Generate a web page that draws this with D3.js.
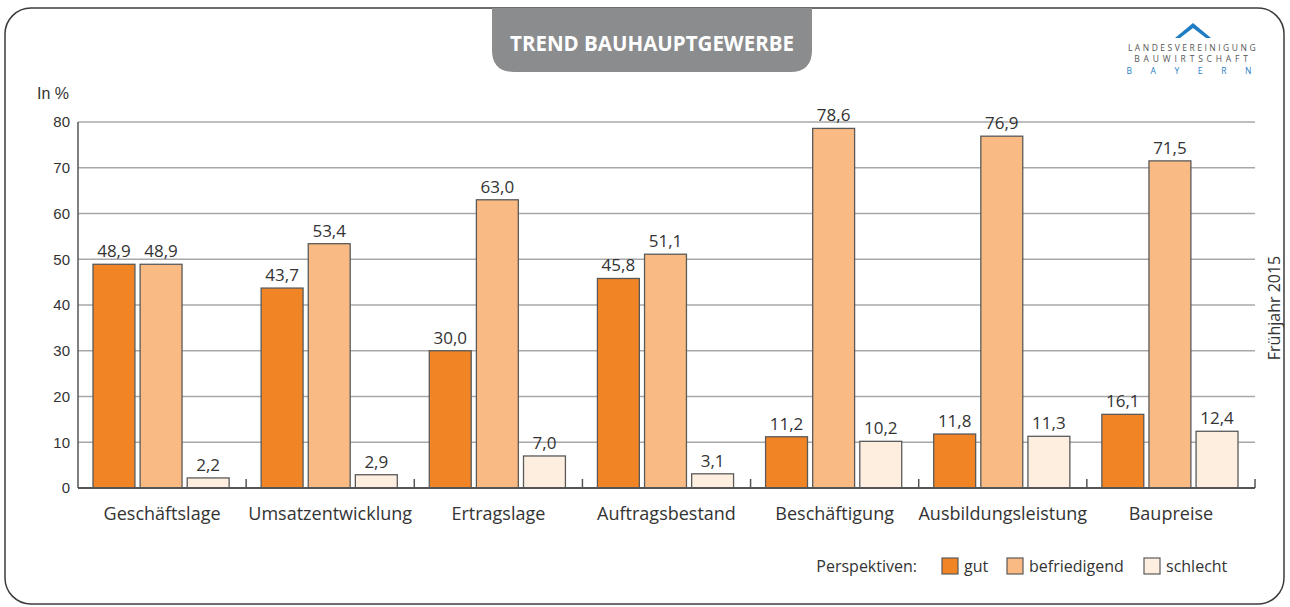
<!DOCTYPE html>
<html>
<head>
<meta charset="utf-8">
<script src="https://d3js.org/d3.v7.min.js"></script>
<style>
  body { margin: 0; background: #fff; }
  svg { display: block; }
</style>
</head>
<body>
<div class="canvas"></div>
<script>
const categories = ['Geschäftslage', 'Umsatzentwicklung', 'Ertragslage', 'Auftragsbestand', 'Beschäftigung', 'Ausbildungsleistung', 'Baupreise'];
const seriesNames = ['gut', 'befriedigend', 'schlecht'];
const gut = [48.9, 43.7, 30.0, 45.8, 11.2, 11.8, 16.1];
const befriedigend = [48.9, 53.4, 63.0, 51.1, 78.6, 76.9, 71.5];
const schlecht = [2.2, 2.9, 7.0, 3.1, 10.2, 11.3, 12.4];
const yTicks = [0, 10, 20, 30, 40, 50, 60, 70, 80];

const dims = { width: 1290, height: 607 };
const plot = { left: 78, right: 1255, top: 122, bottom: 488 };
const colors = ['#f18424', '#f9ba84', '#fdeee0'];
const fontSans = '"Open Sans", "Noto Sans", sans-serif';

const svg = d3.select('.canvas')
  .append('svg')
  .attr('width', dims.width)
  .attr('height', dims.height);

// frame
svg.append('rect')
  .attr('x', 5).attr('y', 8)
  .attr('width', 1279).attr('height', 596)
  .attr('rx', 26)
  .attr('fill', 'none')
  .attr('stroke', '#3c3c3c')
  .attr('stroke-width', 1.5);

// title tab
const tab = { x0: 492, x1: 812, y0: 8, y1: 72, r: 22 };
svg.append('path')
  .attr('d', `M${tab.x0},${tab.y0} L${tab.x1},${tab.y0} L${tab.x1},${tab.y1 - tab.r}
    Q${tab.x1},${tab.y1} ${tab.x1 - tab.r},${tab.y1} L${tab.x0 + tab.r},${tab.y1}
    Q${tab.x0},${tab.y1} ${tab.x0},${tab.y1 - tab.r} Z`)
  .attr('fill', '#8b8c8e');

svg.append('text')
  .attr('x', (tab.x0 + tab.x1) / 2).attr('y', 51)
  .attr('text-anchor', 'middle')
  .attr('fill', '#fff')
  .attr('font-family', fontSans)
  .attr('font-weight', 'bold')
  .attr('font-size', 20.5)
  .text('TREND BAUHAUPTGEWERBE');

// logo
const logo = svg.append('g').attr('transform', 'translate(1193, 0)');
logo.append('path')
  .attr('d', 'M-18,38 L0,23 L18,38 L13,38 L0,28 L-13,38 Z')
  .attr('fill', '#1f7dc4');
const logoLines = [['LANDESVEREINIGUNG', '#555', 51], ['BAUWIRTSCHAFT', '#555', 62], ['B A Y E R N', '#1f7dc4', 74]];
logo.selectAll('text.logo')
  .data(logoLines)
  .enter().append('text')
    .attr('class', 'logo')
    .attr('x', 0).attr('y', d => d[2])
    .attr('text-anchor', 'middle')
    .attr('font-family', fontSans)
    .attr('font-size', 8.5)
    .attr('letter-spacing', (d, i) => i === 0 ? 2.5 : (i === 1 ? 3.8 : 8.2))
    .attr('fill', d => d[1])
    .text(d => d[0]);

// scales
const x = d3.scaleBand()
  .domain(categories)
  .range([plot.left, plot.right])
  .paddingInner(0).paddingOuter(0);

const inner = d3.scaleBand()
  .domain(seriesNames)
  .range([15, x.bandwidth() - 17])
  .paddingInner(0.11);

const y = d3.scaleLinear()
  .domain([0, 80])
  .range([plot.bottom, plot.top]);

// gridlines
svg.append('g')
  .selectAll('line')
  .data(yTicks.filter(d => d > 0))
  .enter().append('line')
    .attr('x1', plot.left).attr('x2', plot.right)
    .attr('y1', d => y(d)).attr('y2', d => y(d))
    .attr('stroke', '#a8a8aa')
    .attr('stroke-width', 1.5);

// y axis
const yAxis = d3.axisLeft(y).tickValues(yTicks).tickSize(0).tickPadding(8);
const yG = svg.append('g')
  .attr('transform', `translate(${plot.left},0)`)
  .call(yAxis);
yG.select('.domain').remove();
yG.selectAll('text')
  .attr('font-family', '"Liberation Sans", Arial, sans-serif')
  .attr('font-size', 15)
  .attr('fill', '#333');

svg.append('line')
  .attr('x1', plot.left).attr('x2', plot.left)
  .attr('y1', plot.top).attr('y2', plot.bottom)
  .attr('stroke', '#555').attr('stroke-width', 1.5);

svg.append('text')
  .attr('x', 37).attr('y', 99)
  .attr('font-family', '"Liberation Sans", Arial, sans-serif')
  .attr('font-size', 16)
  .attr('fill', '#333')
  .text('In %');

// bars
const data = categories.map((c, i) => ({
  cat: c,
  values: [gut[i], befriedigend[i], schlecht[i]].map((v, j) => ({ key: seriesNames[j], value: v, idx: j }))
}));

const groups = svg.append('g')
  .selectAll('g')
  .data(data)
  .enter().append('g')
    .attr('transform', d => `translate(${x(d.cat)},0)`);

groups.selectAll('rect')
  .data(d => d.values)
  .enter().append('rect')
    .attr('x', d => inner(d.key))
    .attr('y', d => y(d.value))
    .attr('width', inner.bandwidth())
    .attr('height', d => y(0) - y(d.value))
    .attr('fill', d => colors[d.idx])
    .attr('stroke', '#5a5a5a')
    .attr('stroke-width', 1.3);

groups.selectAll('text.val')
  .data(d => d.values)
  .enter().append('text')
    .attr('class', 'val')
    .attr('x', d => inner(d.key) + inner.bandwidth() / 2)
    .attr('y', d => y(d.value) - 7)
    .attr('text-anchor', 'middle')
    .attr('font-family', fontSans)
    .attr('font-size', 17)
    .attr('fill', '#333')
    .text(d => d3.format('.1f')(d.value).replace('.', ','));

// x axis baseline + separator ticks
svg.append('line')
  .attr('x1', plot.left).attr('x2', plot.right)
  .attr('y1', plot.bottom).attr('y2', plot.bottom)
  .attr('stroke', '#555').attr('stroke-width', 2);

svg.append('g')
  .selectAll('line')
  .data(categories)
  .enter().append('line')
    .attr('x1', d => x(d) + x.bandwidth()).attr('x2', d => x(d) + x.bandwidth())
    .attr('y1', plot.bottom).attr('y2', plot.bottom - 9)
    .attr('stroke', '#555').attr('stroke-width', 1.5);

svg.append('g')
  .selectAll('text')
  .data(categories)
  .enter().append('text')
    .attr('x', d => x(d) + x.bandwidth() / 2)
    .attr('y', 520)
    .attr('text-anchor', 'middle')
    .attr('font-family', fontSans)
    .attr('font-size', 18)
    .attr('fill', '#333')
    .text(d => d);

// side label
svg.append('text')
  .attr('transform', 'translate(1280,308) rotate(-90)')
  .attr('text-anchor', 'middle')
  .attr('font-family', fontSans)
  .attr('font-size', 16)
  .attr('fill', '#333')
  .text('Frühjahr 2015');

// legend
const legend = svg.append('g').attr('transform', 'translate(0,566)');
legend.append('text')
  .attr('x', 917).attr('y', 6)
  .attr('text-anchor', 'end')
  .attr('font-family', fontSans)
  .attr('font-size', 16)
  .attr('fill', '#333')
  .text('Perspektiven:');

const legendX = [942, 1007, 1144];
const legendItems = legend.selectAll('g.item')
  .data(seriesNames)
  .enter().append('g')
    .attr('class', 'item')
    .attr('transform', (d, i) => `translate(${legendX[i]},0)`);

legendItems.append('rect')
  .attr('x', 0).attr('y', -8)
  .attr('width', 16).attr('height', 16)
  .attr('fill', (d, i) => colors[i])
  .attr('stroke', '#5a5a5a')
  .attr('stroke-width', 1.2);

legendItems.append('text')
  .attr('x', 22).attr('y', 6)
  .attr('font-family', fontSans)
  .attr('font-size', 16)
  .attr('fill', '#333')
  .text(d => d);
</script>
</body>
</html>
